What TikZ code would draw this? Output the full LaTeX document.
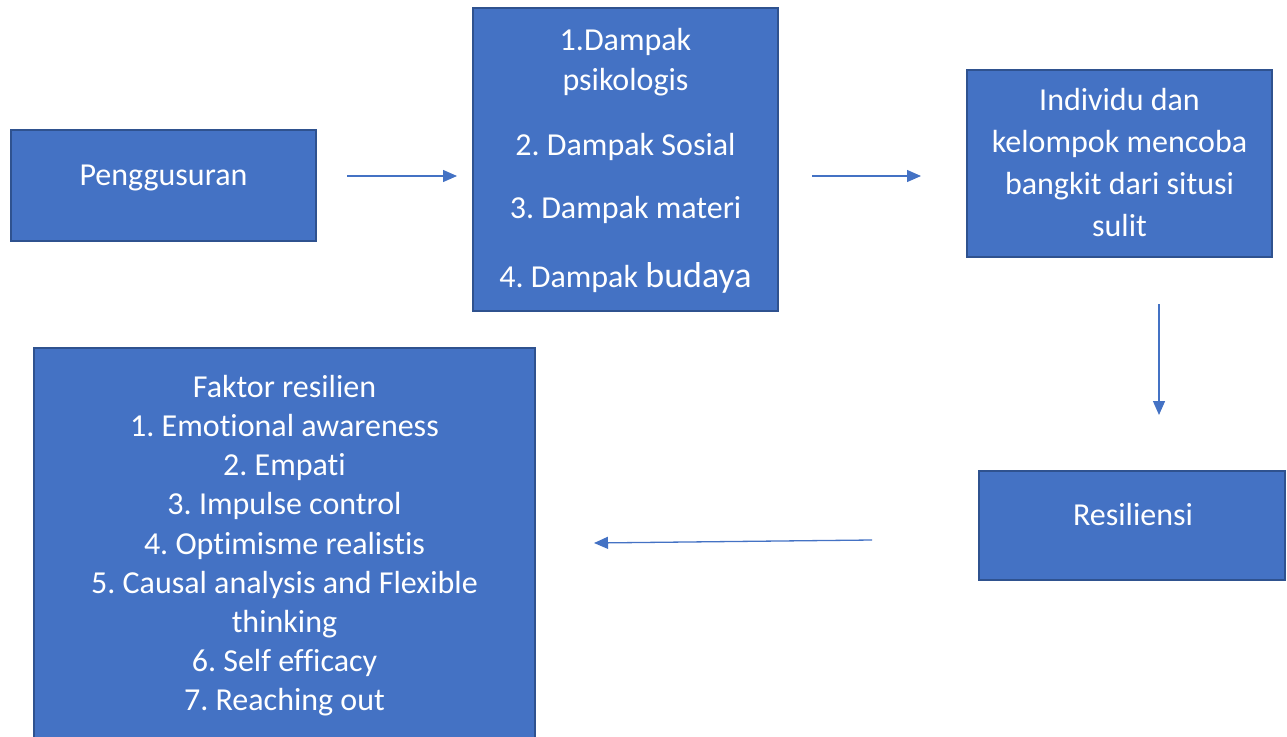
\documentclass[tikz,border=0pt]{standalone}
\usepackage{fontspec}
\setmainfont[RawFeature=-liga]{Carlito}
\usetikzlibrary{arrows.meta}
\definecolor{boxfill}{HTML}{4472C4}
\definecolor{boxline}{HTML}{2F528F}
\definecolor{arrowc}{HTML}{4472C4}
\frenchspacing
\tikzset{
  box/.style={draw=boxline, fill=boxfill, line width=2pt, inner sep=0pt, rectangle},
  txt/.style={text=white, anchor=base, inner sep=0pt, font=\fontsize{32}{39}\selectfont},
  conn/.style={draw=arrowc, line width=1.3pt, -{Triangle[length=14pt,width=12pt]}}
}
\begin{document}
\begin{tikzpicture}[x=1pt,y=-1pt]
\useasboundingbox (0,0) rectangle (1287,736);
\begin{scope}
\clip (0,0) rectangle (1287,736);
% boxes
\node[box, minimum width=305pt, minimum height=111pt] (p) at (163.5,185.5) {};
\node[box, minimum width=305pt, minimum height=303pt] (d) at (625.5,159.5) {};
\node[box, minimum width=305pt, minimum height=187pt] (i) at (1119.5,163.5) {};
\node[box, minimum width=306pt, minimum height=109pt] (r) at (1132,525.5) {};
\node[box, minimum width=501pt, minimum height=397pt] (f) at (284.5,546.5) {};
\end{scope}
% texts
\node[txt] (pt) at (163.5,185) {Penggusuran};
\node[txt] (d1) at (625.5,50) {1.Dampak};
\node[txt] (d2) at (625.5,90.7) {psikologis};
\node[txt] (d3) at (625.5,155.7) {2. Dampak Sosial};
\node[txt] (d4) at (625.5,218) {3. Dampak materi};
\node[txt] (d5) at (625.5,287) {4. Dampak {\fontsize{36}{40}\selectfont budaya}};
\node[txt] (i1) at (1119.5,110) {Individu dan};
\node[txt] (i2) at (1119.5,152) {kelompok mencoba};
\node[txt] (i3) at (1119.5,194) {bangkit dari situsi};
\node[txt] (i4) at (1119.5,236) {sulit};
\node[txt] (rt) at (1133,525) {Resiliensi};
\node[txt] (f0) at (284.5,397) {Faktor resilien};
\node[txt] (f1) at (284.5,436) {1. Emotional awareness};
\node[txt] (f2) at (284.5,475) {2. Empati};
\node[txt] (f3) at (284.5,514) {3. Impulse control};
\node[txt] (f4) at (284.5,554) {4. Optimisme realistis};
\node[txt] (f5) at (284.5,593) {5. Causal analysis and Flexible};
\node[txt] (f6) at (284.5,632) {thinking};
\node[txt] (f7) at (284.5,671.5) {6. Self efficacy};
\node[txt] (f8) at (284.5,710) {7. Reaching out};
% connector end points
\coordinate (a1s) at (347,176);
\coordinate (a1e) at (457,176);
\coordinate (a2s) at (812,176);
\coordinate (a2e) at (921,176);
\coordinate (a3s) at (1159,304);
\coordinate (a3e) at (1159,415);
\coordinate (a4s) at (872,540);
\coordinate (a4e) at (594,543);
\draw[conn] (a1s) -- (a1e);
\draw[conn] (a2s) -- (a2e);
\draw[conn] (a3s) -- (a3e);
\draw[conn] (a4s) -- (a4e);
\end{tikzpicture}
\end{document}
